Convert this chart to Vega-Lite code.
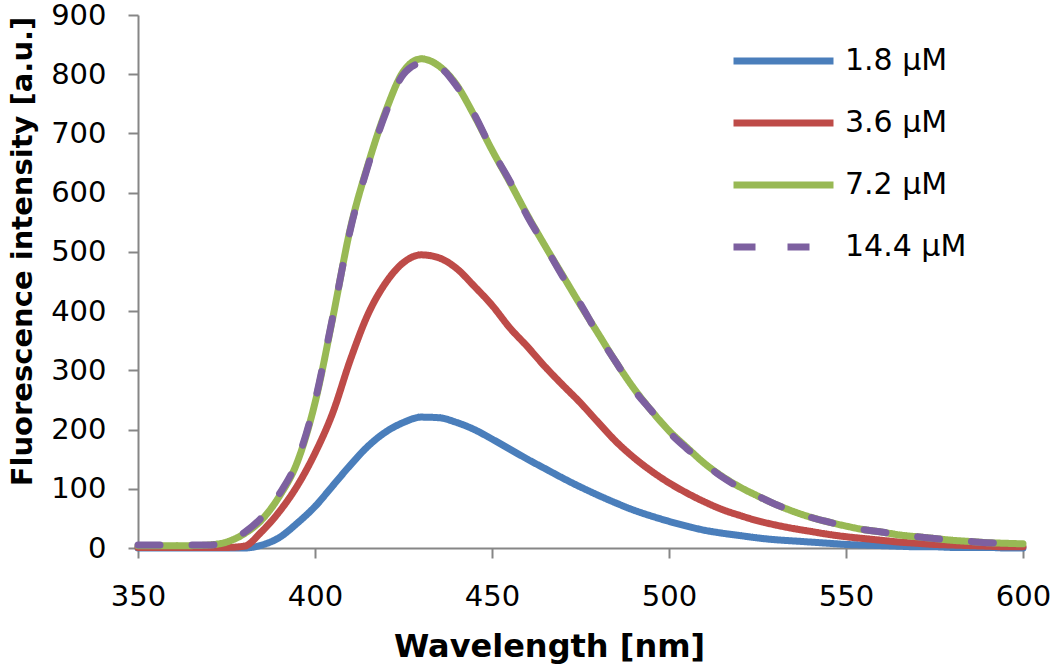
{
  "$schema": "https://vega.github.io/schema/vega-lite/v6.json",
  "width": 885,
  "height": 533,
  "autosize": {"type": "none"},
  "padding": {"left": 138, "top": 15, "right": 27, "bottom": 124},
  "background": "white",
  "config": {
    "view": {"stroke": null},
    "font": "DejaVu Sans"
  },
  "data": {
    "values": [
      {"wl": 350, "a": 0, "b": 1, "c": 4, "d": 5},
      {"wl": 355, "a": 0, "b": 1, "c": 4, "d": 5},
      {"wl": 360, "a": 0, "b": 1, "c": 4, "d": 5},
      {"wl": 365, "a": 0, "b": 1, "c": 4, "d": 5},
      {"wl": 370, "a": 0, "b": 1, "c": 5, "d": 5},
      {"wl": 375, "a": 0, "b": 1, "c": 10, "d": 10},
      {"wl": 380, "a": 0, "b": 3, "c": 24, "d": 26},
      {"wl": 385, "a": 5, "b": 28, "c": 48, "d": 52},
      {"wl": 390, "a": 18, "b": 62, "c": 88, "d": 92},
      {"wl": 395, "a": 42, "b": 105, "c": 145, "d": 148},
      {"wl": 400, "a": 70, "b": 160, "c": 245, "d": 248},
      {"wl": 405, "a": 105, "b": 228, "c": 388, "d": 390},
      {"wl": 410, "a": 140, "b": 318, "c": 540, "d": 538},
      {"wl": 415, "a": 172, "b": 395, "c": 648, "d": 646},
      {"wl": 420, "a": 196, "b": 448, "c": 738, "d": 735},
      {"wl": 425, "a": 212, "b": 482, "c": 805, "d": 800},
      {"wl": 430, "a": 221, "b": 495, "c": 826, "d": 818},
      {"wl": 435, "a": 220, "b": 490, "c": 814, "d": 812},
      {"wl": 440, "a": 212, "b": 472, "c": 782, "d": 780},
      {"wl": 445, "a": 200, "b": 442, "c": 730, "d": 732},
      {"wl": 450, "a": 184, "b": 410, "c": 672, "d": 672},
      {"wl": 455, "a": 167, "b": 372, "c": 618, "d": 620},
      {"wl": 460, "a": 150, "b": 340, "c": 562, "d": 560},
      {"wl": 465, "a": 134, "b": 306, "c": 510, "d": 510},
      {"wl": 470, "a": 118, "b": 275, "c": 460, "d": 458},
      {"wl": 475, "a": 103, "b": 245, "c": 410, "d": 412},
      {"wl": 480, "a": 89, "b": 212, "c": 362, "d": 360},
      {"wl": 485, "a": 76, "b": 180, "c": 314, "d": 314},
      {"wl": 490, "a": 64, "b": 153, "c": 270, "d": 268},
      {"wl": 495, "a": 54, "b": 130, "c": 232, "d": 232},
      {"wl": 500, "a": 45, "b": 110, "c": 198, "d": 196},
      {"wl": 505, "a": 37, "b": 93, "c": 170, "d": 168},
      {"wl": 510, "a": 30, "b": 78, "c": 143, "d": 143},
      {"wl": 515, "a": 25, "b": 65, "c": 121, "d": 120},
      {"wl": 520, "a": 21, "b": 55, "c": 103, "d": 102},
      {"wl": 525, "a": 17, "b": 46, "c": 88, "d": 88},
      {"wl": 530, "a": 14, "b": 39, "c": 74, "d": 74},
      {"wl": 535, "a": 12, "b": 33, "c": 62, "d": 62},
      {"wl": 540, "a": 10, "b": 28, "c": 52, "d": 52},
      {"wl": 545, "a": 8, "b": 23, "c": 44, "d": 44},
      {"wl": 550, "a": 6, "b": 19, "c": 37, "d": 37},
      {"wl": 555, "a": 5, "b": 16, "c": 31, "d": 31},
      {"wl": 560, "a": 4, "b": 13, "c": 27, "d": 27},
      {"wl": 565, "a": 3, "b": 10, "c": 22, "d": 22},
      {"wl": 570, "a": 2, "b": 8, "c": 19, "d": 19},
      {"wl": 575, "a": 2, "b": 6, "c": 16, "d": 16},
      {"wl": 580, "a": 1, "b": 5, "c": 13, "d": 13},
      {"wl": 585, "a": 1, "b": 4, "c": 11, "d": 11},
      {"wl": 590, "a": 1, "b": 3, "c": 9, "d": 9},
      {"wl": 595, "a": 0, "b": 2, "c": 8, "d": 8},
      {"wl": 600, "a": 0, "b": 2, "c": 7, "d": 7}
    ]
  },
  "transform": [
    {"fold": ["a", "b", "c", "d"], "as": ["series", "value"]}
  ],
  "mark": {
    "type": "line",
    "strokeWidth": 7,
    "strokeCap": "round",
    "strokeJoin": "round",
    "interpolate": "monotone"
  },
  "encoding": {
    "x": {
      "field": "wl",
      "type": "quantitative",
      "scale": {"domain": [350, 600], "nice": false, "zero": false},
      "axis": {
        "title": "Wavelength [nm]",
        "values": [350, 400, 450, 500, 550, 600],
        "grid": false,
        "domainColor": "#868686",
        "domainWidth": 2,
        "tickColor": "#868686",
        "tickWidth": 2,
        "tickSize": 10,
        "labelFont": "DejaVu Sans",
        "labelFontSize": 29,
        "labelColor": "#000000",
        "labelPadding": 24,
        "labelFlush": false,
        "titleFont": "DejaVu Sans",
        "titleFontSize": 32,
        "titleFontWeight": "bold",
        "titleColor": "#000000",
        "titleX": 411,
        "titleY": 108,
        "titleAnchor": null,
        "titleAlign": "center",
        "titleBaseline": "alphabetic"
      }
    },
    "y": {
      "field": "value",
      "type": "quantitative",
      "scale": {"domain": [0, 900], "nice": false},
      "axis": {
        "title": "Fluorescence intensity [a.u.]",
        "values": [0, 100, 200, 300, 400, 500, 600, 700, 800, 900],
        "grid": false,
        "domainColor": "#868686",
        "domainWidth": 2,
        "tickColor": "#868686",
        "tickWidth": 2,
        "tickSize": 10,
        "labelFont": "DejaVu Sans",
        "labelFontSize": 29,
        "labelColor": "#000000",
        "labelPadding": 22,
        "labelFlush": false,
        "titleFont": "DejaVu Sans",
        "titleFontSize": 29,
        "titleFontWeight": "bold",
        "titleColor": "#000000",
        "titleX": -116,
        "titleY": 236,
        "titleAngle": -90,
        "titleAlign": "center",
        "titleBaseline": "middle"
      }
    },
    "color": {
      "field": "series",
      "type": "nominal",
      "scale": {
        "domain": ["a", "b", "c", "d"],
        "range": ["#4A7EBB", "#BE4B48", "#98B954", "#7D60A0"]
      },
      "legend": {
        "title": null,
        "orient": "none",
        "legendX": 592,
        "legendY": 31,
        "symbolType": "stroke",
        "symbolSize": 10000,
        "symbolStrokeWidth": 7,
        "clipHeight": 30,
        "labelFont": "DejaVu Sans",
        "labelFontSize": 30,
        "labelColor": "#000000",
        "labelOffset": 8,
        "rowPadding": 32,
        "labelExpr": "{'a':'1.8 μM','b':'3.6 μM','c':'7.2 μM','d':'14.4 μM'}[datum.label]"
      }
    },
    "strokeDash": {
      "field": "series",
      "type": "nominal",
      "scale": {
        "domain": ["a", "b", "c", "d"],
        "range": [[1, 0], [1, 0], [1, 0], [22, 32]]
      },
      "legend": {
        "title": null,
        "orient": "none",
        "legendX": 592,
        "legendY": 31,
        "symbolType": "stroke",
        "symbolSize": 10000,
        "symbolStrokeWidth": 7,
        "clipHeight": 30,
        "labelFont": "DejaVu Sans",
        "labelFontSize": 30,
        "labelColor": "#000000",
        "labelOffset": 8,
        "rowPadding": 32,
        "labelExpr": "{'a':'1.8 μM','b':'3.6 μM','c':'7.2 μM','d':'14.4 μM'}[datum.label]"
      }
    }
  }
}
